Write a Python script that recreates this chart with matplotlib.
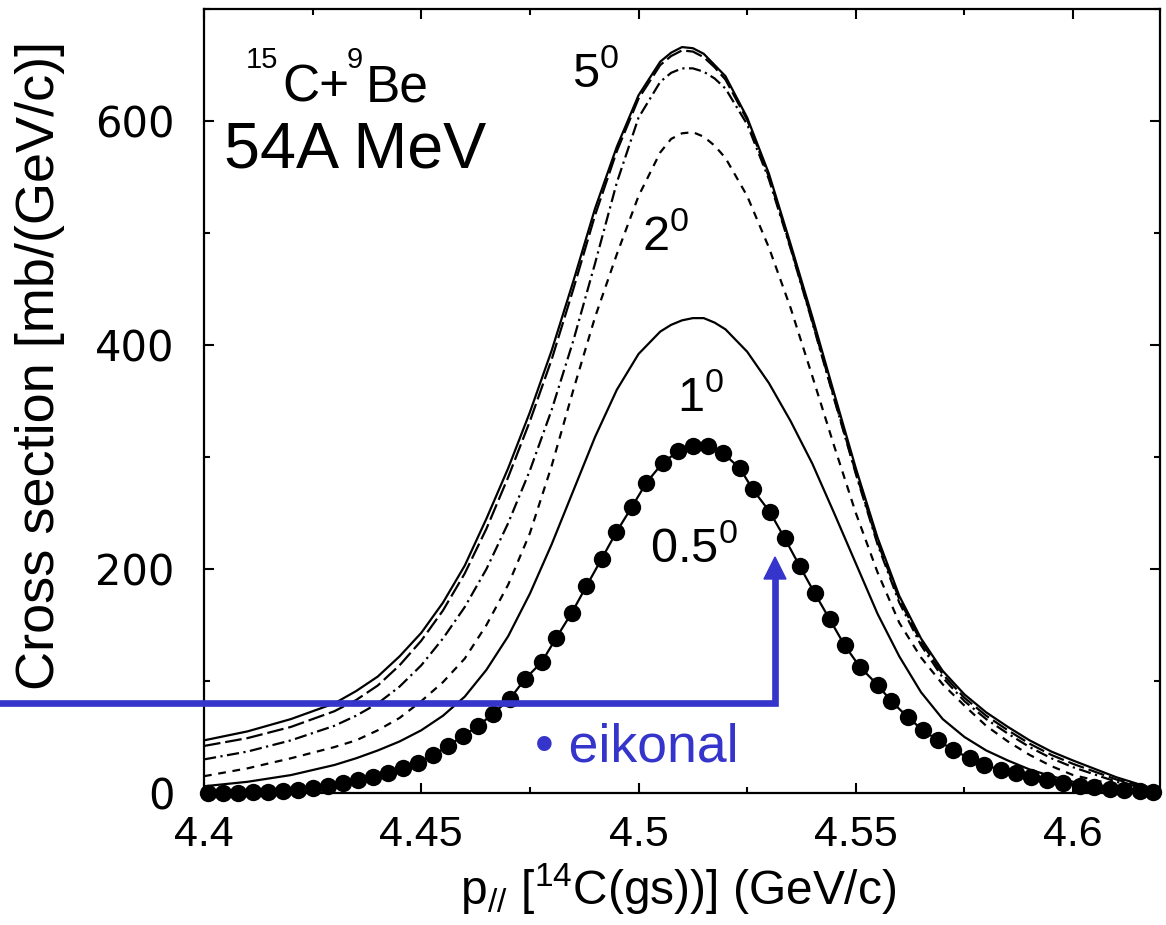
import matplotlib
matplotlib.use("Agg")
import matplotlib.pyplot as plt
from matplotlib.lines import Line2D
from matplotlib.patches import Polygon
from matplotlib.ticker import MultipleLocator

# ---------------- data ----------------
p_grid = [4.40, 4.41, 4.42, 4.43, 4.435, 4.44, 4.445, 4.45, 4.455, 4.46,
          4.465, 4.47, 4.475, 4.48, 4.485, 4.49, 4.495, 4.50,
          4.505, 4.5075, 4.51, 4.5125, 4.515, 4.5175, 4.52,
          4.525, 4.53, 4.535, 4.54, 4.545, 4.55, 4.555, 4.56, 4.565,
          4.57, 4.575, 4.58, 4.585, 4.59, 4.595, 4.60, 4.61, 4.62]

sigma_5deg = [47, 55, 66, 80, 91, 104, 122, 143, 170, 203,
              245, 290, 340, 395, 457, 522, 577, 623,
              653, 661, 666, 665, 660, 650, 640,
              603, 553, 490, 425, 357, 290, 228, 176, 138,
              109, 88, 72, 59, 47, 37, 29, 14, 2]
sigma_4deg = [42, 49, 59, 73, 83, 96, 114, 136, 163, 196,
              236, 282, 332, 387, 450, 516, 573, 620,
              650, 658, 663, 662, 657, 648, 637,
              601, 550, 487, 421, 353, 286, 224, 173, 135,
              106, 85, 69, 56, 44, 34, 26, 12, 2]
sigma_3deg = [30, 37, 47, 60, 69, 80, 95, 114, 138, 166,
              200, 241, 288, 342, 404, 473, 545, 603,
              635, 643, 647, 647, 644, 638, 629,
              597, 548, 486, 420, 352, 285, 222, 170, 132,
              103, 82, 66, 53, 41, 31, 23, 10, 1]
sigma_2deg = [15, 22, 31, 41, 47, 56, 67, 82, 99, 120,
              150, 186, 232, 292, 360, 425, 481, 533,
              572, 584, 589, 590, 586, 578, 567,
              533, 487, 433, 372, 310, 250, 197, 152, 121,
              97, 78, 60, 46, 34, 24, 16, 7, 1]
sigma_1deg = [6, 10, 16, 25, 31, 38, 46, 56, 69, 86,
              110, 140, 178, 222, 270, 318, 360, 392,
              412, 418, 422, 424, 424, 420, 414,
              394, 366, 332, 294, 250, 205, 160, 122, 90,
              66, 50, 38, 29, 21, 15, 10, 4.5, 1]

p_eik = [4.4010, 4.4044, 4.4079, 4.4113, 4.4148, 4.4182, 4.4217, 4.4251,
         4.4286, 4.4320, 4.4355, 4.4389, 4.4424, 4.4458, 4.4493, 4.4527,
         4.4562, 4.4596, 4.4631, 4.4665, 4.4704, 4.4738, 4.4777, 4.4811,
         4.4846, 4.4880, 4.4915, 4.4949, 4.4984, 4.5018, 4.5056, 4.5091,
         4.5125, 4.5160, 4.5194, 4.5233, 4.5263, 4.5302, 4.5336, 4.5371,
         4.5405, 4.5440, 4.5474, 4.5509, 4.5550, 4.5582, 4.5619, 4.5654,
         4.5688, 4.5723, 4.5762, 4.5796, 4.5835, 4.5869, 4.5904, 4.5941,
         4.5976, 4.6015, 4.6049, 4.6084, 4.6118, 4.6153, 4.6183]
sigma_eik = [0, 0, 0.3, 0.5, 1, 2, 3, 4.2,
             6.4, 8.6, 11.6, 13.9, 18.2, 22.6, 27, 33.5,
             42.3, 51, 59.9, 70.8, 84, 101.5, 116.8, 138.8,
             160.7, 184.7, 209, 233, 255, 277, 295, 305,
             309.6, 309.6, 303.6, 290, 271, 251, 227.7, 202.4,
             178.6, 155, 132, 112.7, 96.6, 81.7, 68, 56,
             47.4, 38.5, 31, 25, 20.6, 17.6, 14.6, 11.6,
             8.7, 6.3, 5, 3.3, 2.7, 2, 1]

x_ticks = [4.4, 4.45, 4.5, 4.55, 4.6]
x_tick_labels = ["4.4", "4.45", "4.5", "4.55", "4.6"]
y_ticks = [0, 200, 400, 600]
y_tick_labels = ["0", "200", "400", "600"]

# ---------------- figure ----------------
plt.rcParams["mathtext.fontset"] = "custom"
plt.rcParams["mathtext.rm"] = "Liberation Sans"
plt.rcParams["mathtext.it"] = "Liberation Sans"
plt.rcParams["mathtext.default"] = "regular"

W, H = 1166, 925
fig = plt.figure(figsize=(W / 100, H / 100), dpi=100)
ax = fig.add_axes([204 / W, 1 - 793 / H, (1160 - 204) / W, (793 - 9) / H])

BLUE = "#3535cc"
lw = 1.6
ax.plot(p_grid, sigma_5deg, color="black", lw=lw, ls="-")
ax.plot(p_grid, sigma_4deg, color="black", lw=lw, dashes=(7.5, 2.2))
ax.plot(p_grid, sigma_3deg, color="black", lw=lw, dashes=(5.5, 2, 1, 2))
ax.plot(p_grid, sigma_2deg, color="black", lw=lw, dashes=(3.5, 3))
ax.plot(p_grid, sigma_1deg, color="black", lw=lw, ls="-")
ax.plot(p_eik, sigma_eik, color="black", lw=lw, ls="-", marker="o",
        markersize=12.5, markeredgewidth=0, clip_on=False, zorder=3)

ax.set_xlim(4.4, 4.62)
ax.set_ylim(0, 700)
ax.set_xticks(x_ticks)
ax.set_xticklabels(x_tick_labels)
ax.set_yticks(y_ticks)
ax.set_yticklabels(y_tick_labels)
ax.xaxis.set_minor_locator(MultipleLocator(0.025))
ax.yaxis.set_minor_locator(MultipleLocator(100))
ax.tick_params(which="both", direction="in", top=True, right=True, width=1.5)
ax.tick_params(which="major", length=7)
ax.tick_params(which="minor", length=4)
ax.tick_params(axis="x", which="major", pad=16)
ax.tick_params(axis="y", which="major", pad=21)
for lab in ax.get_xticklabels():
    lab.set_fontfamily("Liberation Sans")
    lab.set_fontsize(31)
for lab in ax.get_yticklabels():
    lab.set_fontfamily("DejaVu Sans")
    lab.set_fontsize(30)
for s in ax.spines.values():
    s.set_linewidth(1.6)

def fx(px):
    return px / W

def fy(py):
    return 1 - py / H

# axis titles
fig.text(fx(678), fy(905), r"p$_{//}$ [$^{14}$C(gs))] (GeV/c)", fontsize=34.5,
         family="Liberation Sans", ha="center", va="baseline")
fig.text(fx(40), fy(365), "Cross section [mb/(GeV/c)]", fontsize=39,
         family="Liberation Sans", ha="center", va="center", rotation=90)

txt = dict(family="Liberation Sans", color="black", va="baseline")
# reaction label: 15C + 9Be, composed from pieces
fig.text(fx(246), fy(68), "15", fontsize=21, **txt)
fig.text(fx(282), fy(102), "C+", fontsize=37, **txt)
fig.text(fx(347), fy(68), "9", fontsize=21, **txt)
fig.text(fx(366), fy(102), "Be", fontsize=37, **txt)
fig.text(fx(224), fy(168), "54A MeV", fontsize=46.5, **txt)
ax.text(4.4846, 630, r"5$^{0}$", fontsize=35, **txt)
ax.text(4.5007, 485, r"2$^{0}$", fontsize=35, **txt)
ax.text(4.5088, 341, r"1$^{0}$", fontsize=35, **txt)
ax.text(4.5026, 206, r"0.5$^{0}$", fontsize=35, **txt)

# blue annotation (figure pixel coordinates)
fig.add_artist(Line2D([fx(0), fx(775), fx(775)], [fy(703), fy(703), fy(576)],
                      color=BLUE, lw=4.8, solid_joinstyle="miter",
                      transform=fig.transFigure))
fig.add_artist(Polygon([[fx(764), fy(579)], [fx(786), fy(579)], [fx(775), fy(557)]],
                       closed=True, color=BLUE, transform=fig.transFigure))
fig.text(fx(535), fy(762), "\u2022 eikonal", color=BLUE, fontsize=38.5,
         family="Liberation Sans", va="baseline")

fig.savefig("out.png", dpi=100)
